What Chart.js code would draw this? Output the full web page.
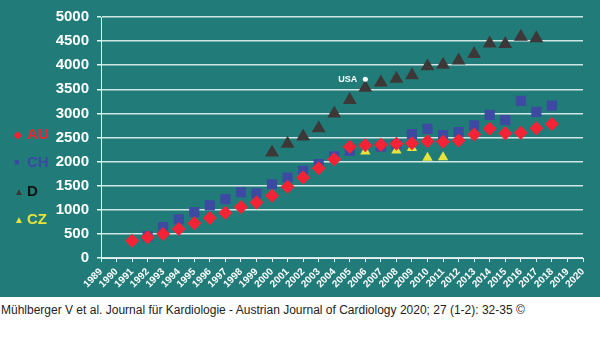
<!DOCTYPE html>
<html><head><meta charset="utf-8">
<script src="https://cdn.jsdelivr.net/npm/chart.js@4.4.1/dist/chart.umd.min.js"></script>
<style>
html,body{margin:0;padding:0;background:#fff;width:600px;height:360px;overflow:hidden;font-family:"Liberation Sans",Arial,sans-serif}
#panel{position:absolute;left:0;top:0;width:600px;height:297px;background:#217c79}
#c{position:absolute;left:0;top:0}
.lg{position:absolute;left:14px;font-weight:bold;font-size:15px;line-height:16px;white-space:nowrap}
.lg span.m{display:inline-block;width:13px;font-size:10px;vertical-align:1px}
#foot{position:absolute;left:1px;top:303px;font-size:12px;color:#222;white-space:nowrap}
</style></head><body>
<div id="panel"><canvas id="c" width="600" height="297"></canvas>
<div class="lg" style="top:126px;color:#f2232f"><span class="m">◆</span>AU</div>
<div class="lg" style="top:154px;color:#3a4aa3"><span class="m" style="font-size:9px;vertical-align:2px">■</span>CH</div>
<div class="lg" style="top:183px;color:#111"><span class="m" style="color:#3b3535">▲</span>D</div>
<div class="lg" style="top:211px;color:#e8e33c"><span class="m">▲</span>CZ</div>
</div>
<div id="foot">Mühlberger V et al. Journal für Kardiologie - Austrian Journal of Cardiology 2020; 27 (1-2): 32-35 ©</div>
<script>
const years = ["1989","1990","1991","1992","1993","1994","1995","1996","1997","1998","1999","2000","2001","2002","2003","2004","2005","2006","2007","2008","2009","2010","2011","2012","2013","2014","2015","2016","2017","2018","2019","2020"];
const yTicks = [0,500,1000,1500,2000,2500,3000,3500,4000,4500,5000];
const seriesAU = [null,null,360,430,500,600,720,830,940,1060,1150,1290,1480,1670,1860,2050,2310,2340,2350,2370,2380,2420,2410,2440,2560,2680,2590,2600,2690,2780,null,null];
const seriesCH = [null,null,null,450,640,800,950,1090,1220,1360,1340,1530,1670,1810,1950,2110,2220,null,2310,2360,2570,2680,2550,2610,2750,2970,2860,3260,3030,3160,null,null];
const seriesD  = [null,null,null,null,null,null,null,null,null,null,null,2190,2370,2520,2690,3000,3280,3530,3640,3720,3790,3980,4010,4100,4230,4450,4440,4590,4560,null,null,null];
const seriesCZ = [null,null,null,null,null,null,null,null,null,null,null,null,null,null,null,null,null,2210,null,2230,2280,2080,2090,null,null,null,null,null,null,null,null,null];
const seriesUSA = [null,null,null,null,null,null,null,null,null,null,null,null,null,null,null,null,null,3710,null,null,null,null,null,null,null,null,null,null,null,null,null,null];

const usaLabel = {
  id:'usaLabel',
  afterDatasetsDraw(chart){
    const meta = chart.getDatasetMeta(4);
    const idx = seriesUSA.findIndex(v=>v!==null);
    const p = meta.data[idx];
    const ctx = chart.ctx;
    ctx.save();
    ctx.fillStyle = '#ffffff';
    ctx.font = 'bold 9px "Liberation Sans", Arial, sans-serif';
    ctx.textAlign = 'right';
    ctx.textBaseline = 'middle';
    ctx.fillText('USA', p.x - 8, p.y);
    ctx.restore();
  }
};

new Chart(document.getElementById('c'), {
  type: 'line',
  data: {
    labels: years,
    datasets: [
      {label:'D', data:seriesD, showLine:false, pointStyle:'triangle', pointRadius:8, pointHoverRadius:8, backgroundColor:'#3d3838', borderColor:'#3d3838', borderWidth:0, order:5},
      {label:'CH', data:seriesCH, showLine:false, pointStyle:'rect', pointRadius:7.2, pointHoverRadius:7.2, backgroundColor:'#3c4aa2', borderColor:'#3c4aa2', borderWidth:0, order:4},
      {label:'CZ', data:seriesCZ, showLine:false, pointStyle:'triangle', pointRadius:6, pointHoverRadius:6, backgroundColor:'#e6e33e', borderColor:'#e6e33e', borderWidth:0, order:3},
      {label:'AU', data:seriesAU, showLine:false, pointStyle:'rectRot', pointRadius:7, pointHoverRadius:7, backgroundColor:'#f42336', borderColor:'#f42336', borderWidth:0, order:2},
      {label:'USA', data:seriesUSA, showLine:false, pointStyle:'circle', pointRadius:2.5, backgroundColor:'#ffffff', borderColor:'#ffffff', borderWidth:0, order:1}
    ]
  },
  options: {
    responsive:false,
    animation:false,
    layout:{padding:{left:0,right:17,top:5,bottom:0}},
    plugins:{legend:{display:false}, tooltip:{enabled:false}},
    scales:{
      x:{
        offset:false,
        grid:{drawOnChartArea:false, color:'#e8f4f3', tickLength:4, lineWidth:1},
        border:{color:'#e8f4f3', width:1},
        ticks:{color:'#ffffff', font:{family:'"Liberation Sans", Arial, sans-serif', size:10, weight:'bold'}, maxRotation:45, minRotation:45, autoSkip:false, padding:4},
        afterFit(s){ s.height = 39; }
      },
      y:{
        min:0, max:5000,
        afterBuildTicks(s){ s.ticks = yTicks.map(v=>({value:v})); },
        grid:{color:'#cfe6e4', lineWidth:1.5, tickLength:4, drawTicks:true, tickColor:'#e8f4f3'},
        border:{color:'#e8f4f3', width:1},
        ticks:{color:'#ffffff', font:{family:'"Liberation Sans", Arial, sans-serif', size:15, weight:'bold'}, padding:8, callback:(v)=>String(v)},
        afterFit(s){ s.width = 101; }
      }
    }
  },
  plugins:[usaLabel]
});
</script>
</body></html>
